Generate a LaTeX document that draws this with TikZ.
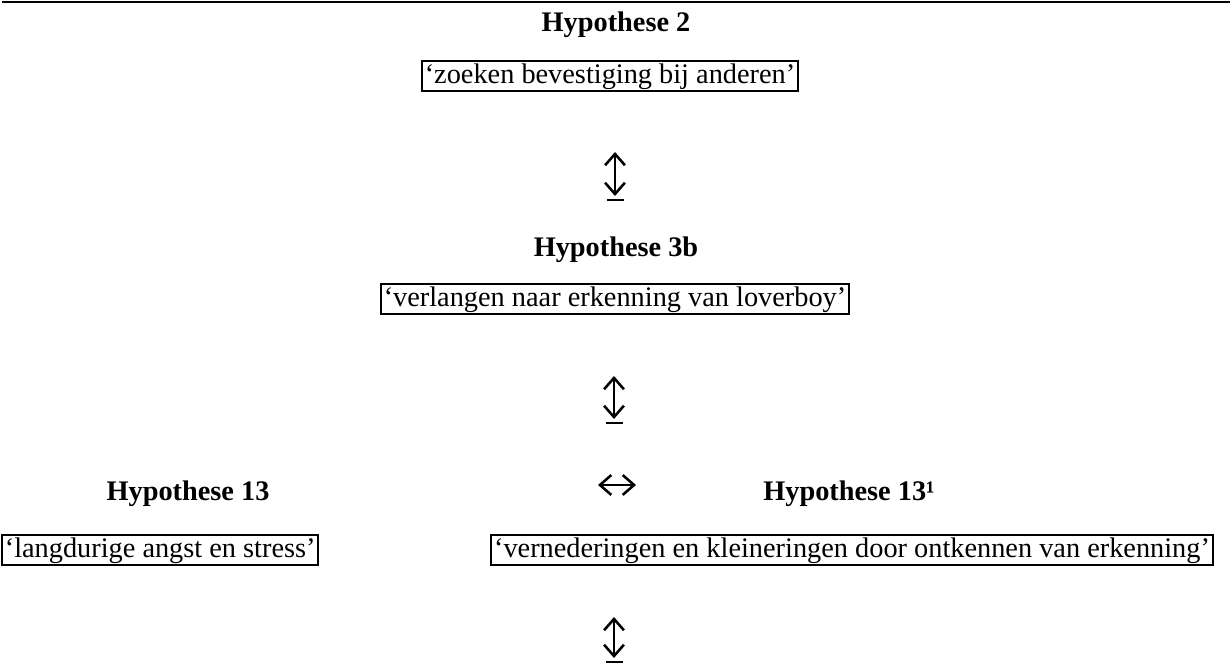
\documentclass[tikz,border=0pt]{standalone}
\usepackage{fontspec}
\setmainfont{Liberation Serif}
\usetikzlibrary{arrows.meta}

\newcommand{\pxu}{0.353pt}

\tikzset{
    hyp/.style={font=\bfseries, inner sep=0pt, anchor=base},
    claim/.style={draw, line width=0.7pt, inner xsep=1pt, inner ysep=0pt, text height=8pt, text depth=2.4pt},
    link/.style={line width=0.8pt, {Straight Barb[length=4pt, width=7pt, line width=0.9pt]}-{Straight Barb[length=4pt, width=7pt, line width=0.9pt]}},
    base bar/.style={line width=1pt}
}

\begin{document}
\begin{tikzpicture}[x=\pxu, y=-\pxu]
                \useasboundingbox (0,0) rectangle (1232,664);

                % RULE
                \coordinate (rl) at (2,2);
                \coordinate (rr) at (1230,2);
                \draw[line width=0.8pt] (rl) -- (rr);

                % HYPOTHESES
                \node[hyp] (h2) at (616,32) {Hypothese 2};
                \node[claim] (c2) at (610,76) {‘zoeken bevestiging bij anderen’};

                \node[hyp] (h3b) at (616,257) {Hypothese 3b};
                \node[claim] (c3b) at (615,299) {‘verlangen naar erkenning van loverboy’};

                \node[hyp] (h13) at (188,501) {Hypothese 13};
                \node[hyp] (h13a) at (849,501) {Hypothese 13¹};
                \node[claim, anchor=west] (c13) at (1,550) {‘langdurige angst en stress’};
                \node[claim] (c13a) at (852,550) {‘vernederingen en kleineringen door ontkennen van erkenning’};

                % ARROWS
                \coordinate (a1t) at (615,152);
                \coordinate (a1b) at (615,196);
                \coordinate (a2t) at (614,376);
                \coordinate (a2b) at (614,419);
                \coordinate (a3t) at (614,617);
                \coordinate (a3b) at (614,658);
                \coordinate (ml) at (598,485);
                \coordinate (mr) at (636,485);

                \draw[link] (a1t) -- (a1b);
                \draw[link] (a2t) -- (a2b);
                \draw[link] (a3t) -- (a3b);
                \draw[link] (ml) -- (mr);

                \foreach \p in {a1b, a2b, a3b}
                    \draw[base bar] ([xshift=-8*\pxu, yshift=-4*\pxu] \p) -- ([xshift=9*\pxu, yshift=-4*\pxu] \p);

            \end{tikzpicture}
\end{document}
